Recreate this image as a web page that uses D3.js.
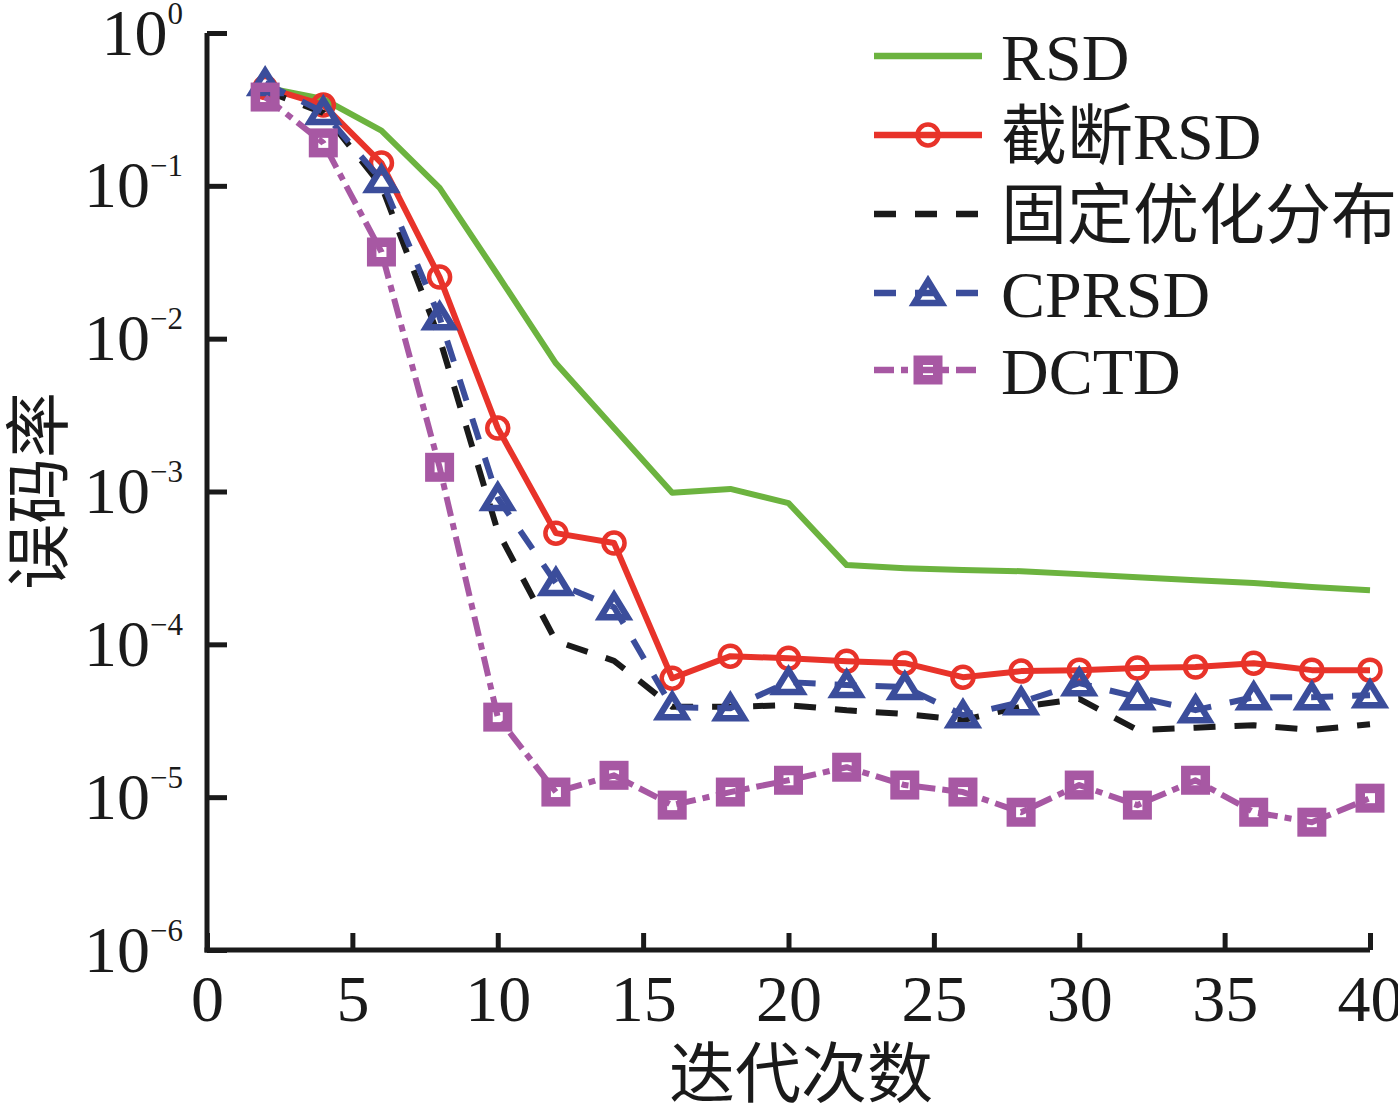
<!DOCTYPE html>
<html>
<head>
<meta charset="utf-8">
<script src="https://cdn.jsdelivr.net/npm/d3@7"></script>
<style>
  html, body { margin: 0; padding: 0; background: #fff; }
  svg { display: block; }
</style>
</head>
<body>
<svg id="chart" width="1398" height="1105"></svg>
<script>
// iteration count (x) and bit error rate for each decoder
const iterations = [2, 4, 6, 8, 10, 12, 14, 16, 18, 20, 22, 24, 26, 28, 30, 32, 34, 36, 38, 40];
const berRSD = [0.44, 0.37, 0.23, 0.097, 0.0261, 0.0069, 0.0026, 9.8e-4, 1.04e-3, 8.4e-4,
  3.3e-4, 3.15e-4, 3.06e-4, 3.01e-4, 2.88e-4, 2.75e-4, 2.63e-4, 2.52e-4, 2.37e-4, 2.26e-4];
const berTruncRSD = [0.44, 0.338, 0.141, 0.0253, 2.6e-3, 5.34e-4, 4.6e-4, 6.0e-5, 8.37e-5, 8.1e-5,
  7.76e-5, 7.53e-5, 6.1e-5, 6.68e-5, 6.78e-5, 6.99e-5, 7.1e-5, 7.53e-5, 6.78e-5, 6.78e-5];
const berFixed = [0.42, 0.30, 0.10, 0.0100, 5.5e-4, 1.05e-4, 7.8e-5, 3.9e-5, 3.9e-5, 4.0e-5,
  3.7e-5, 3.5e-5, 3.2e-5, 3.9e-5, 4.4e-5, 2.75e-5, 2.85e-5, 2.95e-5, 2.75e-5, 3.0e-5];
const berCPRSD = [0.47, 0.304, 0.109, 0.0138, 9.06e-4, 2.52e-4, 1.75e-4, 3.88e-5, 3.82e-5, 5.66e-5,
  5.41e-5, 5.25e-5, 3.44e-5, 4.18e-5, 5.57e-5, 4.51e-5, 3.71e-5, 4.51e-5, 4.51e-5, 4.65e-5];
const berDCTD = [0.381, 0.191, 0.0369, 1.44e-3, 3.34e-5, 1.08e-5, 1.39e-5, 8.87e-6, 1.08e-5, 1.29e-5,
  1.57e-5, 1.2e-5, 1.08e-5, 7.97e-6, 1.2e-5, 8.87e-6, 1.29e-5, 7.97e-6, 6.86e-6, 9.85e-6];

const seriesNames = ["RSD", "截断RSD", "固定优化分布", "CPRSD", "DCTD"];
const xTicks = [0, 5, 10, 15, 20, 25, 30, 35, 40];
const yTicks = [1, 1e-1, 1e-2, 1e-3, 1e-4, 1e-5, 1e-6];
const xTitle = "迭代次数";
const yTitle = "误码率";

const FONT = "'Liberation Serif', 'Times New Roman', 'Noto Sans CJK SC', serif";
const INK = "#1a1a1a";

const svg = d3.select("#chart");

const x = d3.scaleLinear().domain([0, 40]).range([207, 1370]);
const y = d3.scaleLog().domain([1e-6, 1]).range([950, 33]);

// series styling (kept apart from the data)
const series = [
  { name: seriesNames[0], values: berRSD, color: "#6cb33f", dash: null, marker: null },
  { name: seriesNames[1], values: berTruncRSD, color: "#e8332a", dash: null, marker: "circle" },
  { name: seriesNames[2], values: berFixed, color: INK, dash: "22,19", marker: null },
  { name: seriesNames[3], values: berCPRSD, color: "#3b4d9b", dash: "22,19", marker: "triangle" },
  { name: seriesNames[4], values: berDCTD, color: "#a758a3", dash: "20,7,7,7", marker: "square" }
];

// ---- axes ----
const xAxis = svg.append("g")
  .attr("transform", "translate(0," + y(1e-6) + ")")
  .call(d3.axisBottom(x).tickValues(xTicks).tickSize(-17).tickSizeOuter(0).tickPadding(24)
    .tickFormat(d3.format("d")));

const yAxis = svg.append("g")
  .attr("transform", "translate(" + x(0) + ",0)")
  .call(d3.axisLeft(y).tickValues(yTicks).tickSize(-20).tickSizeOuter(0).tickPadding(24)
    .tickFormat(() => ""));

[xAxis, yAxis].forEach(function (g) {
  g.select(".domain").attr("stroke", INK).attr("stroke-width", 5);
  g.selectAll(".tick line").attr("stroke", INK).attr("stroke-width", 5);
  g.selectAll(".tick text")
    .attr("fill", INK)
    .style("font-family", FONT)
    .style("font-size", "66px");
});
// extend the domain lines so the corner is closed
xAxis.select(".domain").attr("d", "M" + (x(0) - 2.5) + ",0H" + x(40));
yAxis.select(".domain").attr("d", "M0," + y(1) + "V" + (y(1e-6) + 2.5));

// y tick labels as 10 with superscript exponent
yAxis.selectAll(".tick text").each(function (d) {
  const t = d3.select(this);
  const exp = Math.round(Math.log10(d));
  t.text(null).attr("text-anchor", "end");
  t.append("tspan").text("10");
  t.append("tspan")
    .attr("dy", -31)
    .style("font-size", "31px")
    .text(exp === 0 ? "0" : "\u2212" + Math.abs(exp));
});

// axis titles
svg.append("text")
  .attr("x", 801)
  .attr("y", 1097)
  .attr("text-anchor", "middle")
  .attr("fill", INK)
  .style("font-family", FONT)
  .style("font-size", "66px")
  .text(xTitle);

svg.append("text")
  .attr("transform", "translate(62,491) rotate(-90)")
  .attr("text-anchor", "middle")
  .attr("fill", INK)
  .style("font-family", FONT)
  .style("font-size", "66px")
  .text(yTitle);

// ---- markers ----
function drawMarker(sel, kind, color) {
  if (kind === "circle") {
    sel.append("circle").attr("r", 10.5)
      .attr("fill", "none").attr("stroke", color).attr("stroke-width", 4.5);
  } else if (kind === "triangle") {
    sel.append("path").attr("d", "M0,-12L13.5,10L-13.5,10Z")
      .attr("fill", "none").attr("stroke", color).attr("stroke-width", 6.5)
      .attr("stroke-linejoin", "miter");
  } else if (kind === "square") {
    sel.append("rect").attr("x", -9.75).attr("y", -9.75).attr("width", 19.5).attr("height", 19.5)
      .attr("fill", "none").attr("stroke", color).attr("stroke-width", 9.5);
  }
}

// ---- lines ----
const line = d3.line()
  .x((d, i) => x(iterations[i]))
  .y(d => y(d));

const plot = svg.append("g").attr("class", "plot");

series.forEach(function (s) {
  const g = plot.append("g").attr("class", "series");
  g.append("path")
    .datum(s.values)
    .attr("d", line)
    .attr("fill", "none")
    .attr("stroke", s.color)
    .attr("stroke-width", 6)
    .attr("stroke-dasharray", s.dash)
    .attr("stroke-linejoin", "round");

  if (s.marker) {
    g.selectAll("g.mk")
      .data(s.values)
      .enter()
      .append("g")
      .attr("class", "mk")
      .attr("transform", (d, i) => "translate(" + x(iterations[i]) + "," + y(d) + ")")
      .each(function () { drawMarker(d3.select(this), s.marker, s.color); });
  }
});

// ---- legend ----
const legend = svg.append("g").attr("transform", "translate(874,0)");
const rowY = [56, 135, 214, 293, 370];

series.forEach(function (s, i) {
  const row = legend.append("g").attr("transform", "translate(0," + rowY[i] + ")");
  row.append("line")
    .attr("x1", 0).attr("x2", 108)
    .attr("stroke", s.color)
    .attr("stroke-width", 6.5)
    .attr("stroke-dasharray", s.dash);
  if (s.marker) {
    drawMarker(row.append("g").attr("transform", "translate(54,0)"), s.marker, s.color);
  }
  row.append("text")
    .attr("x", 127)
    .attr("dy", "0.36em")
    .attr("fill", INK)
    .style("font-family", FONT)
    .style("font-size", "66px")
    .text(s.name);
});
</script>
</body>
</html>
